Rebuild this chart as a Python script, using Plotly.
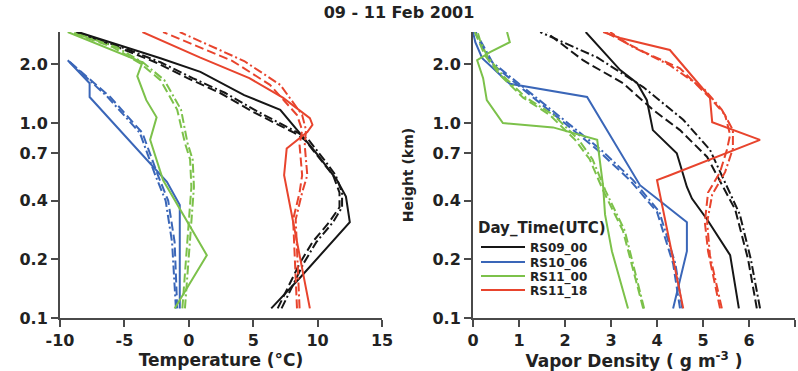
import plotly.graph_objects as go

# ---------------- data ----------------
series_names = ["RS09_00", "RS10_06", "RS11_00", "RS11_18"]
series_colors = ["#161616", "#3a66b8", "#7cc14a", "#e8442d"]
y_tick_vals = [0.1, 0.2, 0.4, 0.7, 1.0, 2.0]
y_tick_text = ["0.1", "0.2", "0.4", "0.7", "1.0", "2.0"]
temp_ticks = [-10, -5, 0, 5, 10, 15]
temp_tick_text = ["-10", "-5", "0", "5", "10", "15"]
vap_ticks = [0, 1, 2, 3, 4, 5, 6, 7]

# Temperature profiles (deg C) vs height (km)
t_rs09_solid_h = [0.112, 0.16, 0.31, 0.42, 0.51, 0.70, 0.89, 1.17, 1.39, 1.83, 2.15, 2.5, 2.93]
t_rs09_solid = [6.4, 8.6, 12.5, 12.2, 11.5, 9.9, 8.6, 7.1, 4.3, 0.9, -2.2, -5.3, -8.6]
t_rs09_dash_h = [0.112, 0.19, 0.245, 0.31, 0.37, 0.44, 0.54, 0.65, 0.82, 0.89, 1.14, 1.43, 1.7, 2.05, 2.42, 2.93]
t_rs09_dash = [6.9, 8.6, 9.6, 10.9, 11.7, 11.7, 11.2, 10.2, 9.0, 8.2, 5.0, 2.4, -0.1, -2.6, -5.3, -8.8]
t_rs09_dd = [7.2, 8.9, 9.9, 11.2, 11.9, 11.9, 11.4, 10.5, 9.3, 8.5, 5.4, 2.8, 0.3, -2.2, -5.0, -8.7]

t_rs10_solid_h = [0.112, 0.38, 0.50, 1.36, 1.6, 2.1]
t_rs10_solid = [-0.7, -0.7, -1.7, -7.7, -7.7, -9.4]
t_rs10_dash_h = [0.112, 0.245, 0.4, 0.54, 0.89, 1.36, 2.1]
t_rs10_dash = [-0.9, -1.1, -1.6, -2.4, -3.6, -6.1, -9.4]
t_rs10_dd = [-1.0, -1.3, -1.8, -2.6, -3.8, -6.3, -9.4]

t_rs11a_solid_h = [0.112, 0.21, 0.51, 0.82, 1.07, 1.31, 1.74, 2.05, 2.93]
t_rs11a_solid = [-1.1, 1.4, -2.0, -3.0, -2.5, -3.3, -4.0, -3.6, -9.4]
t_rs11a_dash_h = [0.112, 0.22, 0.47, 0.65, 0.79, 1.17, 1.66, 2.03, 2.45, 2.9]
t_rs11a_dash = [-0.5, -0.15, 0.2, 0.1, -0.3, -0.9, -2.2, -3.8, -5.9, -9.0]
t_rs11a_dd = [-0.3, 0.05, 0.4, 0.3, -0.1, -0.6, -1.9, -3.5, -5.6, -8.9]

t_rs11b_solid_h = [0.112, 0.54, 0.74, 0.82, 0.90, 0.98, 1.06, 1.35, 1.7, 2.17, 2.93]
t_rs11b_solid = [9.4, 7.4, 7.6, 8.4, 9.2, 9.6, 9.4, 7.3, 4.7, 0.85, -3.6]
t_rs11b_dash_h = [0.112, 0.32, 0.44, 0.54, 0.77, 0.92, 1.1, 1.57, 2.08, 2.93]
t_rs11b_dash = [8.4, 8.1, 8.6, 8.8, 8.6, 8.8, 8.4, 6.3, 3.4, -2.0]
t_rs11b_dd = [8.6, 8.3, 8.8, 9.2, 9.0, 9.1, 8.8, 7.1, 4.3, -0.7]

# Vapor density profiles (g m-3) vs height (km)
v_rs09_solid_h = [0.112, 0.21, 0.32, 0.41, 0.47, 0.70, 0.92, 1.31, 1.6, 1.87, 2.93]
v_rs09_solid = [5.78, 5.59, 5.09, 4.76, 4.65, 4.43, 3.91, 3.78, 3.57, 3.2, 2.45]
v_rs09_dash_h = [0.112, 0.2, 0.36, 0.48, 0.67, 0.92, 1.17, 1.6, 2.1, 2.9]
v_rs09_dash = [6.17, 5.98, 5.7, 5.41, 5.09, 4.5, 3.91, 3.26, 2.39, 1.61]
v_rs09_dd_h = [0.112, 0.2, 0.34, 0.47, 0.73, 1.04, 1.53, 2.17, 2.93]
v_rs09_dd = [6.24, 6.04, 5.8, 5.52, 5.15, 4.57, 3.7, 2.7, 1.46]

v_rs10_solid_h = [0.112, 0.22, 0.31, 0.48, 1.36, 1.59, 2.15, 2.6, 2.93]
v_rs10_solid = [4.35, 4.65, 4.65, 3.63, 2.48, 0.8, 0.2, 0.05, 0.0]
v_rs10_dash_h = [0.112, 0.19, 0.35, 0.51, 0.73, 1.07, 1.48, 2.05, 2.93]
v_rs10_dash = [4.5, 4.35, 4.0, 3.41, 2.7, 1.83, 1.09, 0.37, 0.04]
v_rs10_dd = [4.55, 4.4, 4.05, 3.48, 2.78, 1.9, 1.15, 0.42, 0.06]

v_rs11a_solid_h = [0.112, 0.22, 0.34, 0.47, 0.82, 0.95, 1.0, 1.31, 1.70, 2.1, 2.31, 2.6, 2.93]
v_rs11a_solid = [3.37, 3.02, 2.87, 2.83, 2.7, 1.74, 0.65, 0.3, 0.22, 0.09, 0.37, 0.8, 0.74]
v_rs11a_dash_h = [0.112, 0.28, 0.45, 0.65, 0.82, 1.1, 1.35, 1.76, 2.22, 2.67, 2.93]
v_rs11a_dash = [3.7, 3.26, 2.83, 2.54, 2.22, 1.67, 1.09, 0.59, 0.26, 0.11, 0.04]
v_rs11a_dd = [3.72, 3.3, 2.88, 2.6, 2.3, 1.75, 1.15, 0.64, 0.3, 0.15, 0.1]

v_rs11b_solid_h = [0.112, 0.35, 0.51, 0.54, 0.82, 1.01, 1.36, 2.37, 2.73, 2.93]
v_rs11b_solid = [4.57, 4.13, 4.0, 4.28, 6.24, 5.2, 5.15, 4.28, 3.2, 2.83]
v_rs11b_dash_h = [0.112, 0.22, 0.31, 0.44, 0.56, 0.73, 0.87, 1.1, 1.31, 1.91, 2.3, 2.93]
v_rs11b_dash = [5.37, 5.11, 5.04, 5.11, 5.37, 5.52, 5.59, 5.48, 5.2, 4.5, 3.74, 2.87]
v_rs11b_dd_h = [0.112, 0.21, 0.31, 0.43, 0.56, 0.74, 0.92, 1.17, 1.48, 1.98, 2.5, 2.93]
v_rs11b_dd = [5.41, 5.15, 5.09, 5.2, 5.48, 5.65, 5.65, 5.41, 5.04, 4.28, 3.41, 2.98]

# ---------------- figure ----------------
W, H = 798, 371
FONT = "DejaVu Sans"
DASH = "9px,4px"
DASHDOT = "9px,3px,2px,3px"

temp_sets = [
    [(t_rs09_solid, t_rs09_solid_h), (t_rs09_dash, t_rs09_dash_h), (t_rs09_dd, t_rs09_dash_h)],
    [(t_rs10_solid, t_rs10_solid_h), (t_rs10_dash, t_rs10_dash_h), (t_rs10_dd, t_rs10_dash_h)],
    [(t_rs11a_solid, t_rs11a_solid_h), (t_rs11a_dash, t_rs11a_dash_h), (t_rs11a_dd, t_rs11a_dash_h)],
    [(t_rs11b_solid, t_rs11b_solid_h), (t_rs11b_dash, t_rs11b_dash_h), (t_rs11b_dd, t_rs11b_dash_h)],
]
vap_sets = [
    [(v_rs09_solid, v_rs09_solid_h), (v_rs09_dash, v_rs09_dash_h), (v_rs09_dd, v_rs09_dd_h)],
    [(v_rs10_solid, v_rs10_solid_h), (v_rs10_dash, v_rs10_dash_h), (v_rs10_dd, v_rs10_dash_h)],
    [(v_rs11a_solid, v_rs11a_solid_h), (v_rs11a_dash, v_rs11a_dash_h), (v_rs11a_dd, v_rs11a_dash_h)],
    [(v_rs11b_solid, v_rs11b_solid_h), (v_rs11b_dash, v_rs11b_dash_h), (v_rs11b_dd, v_rs11b_dd_h)],
]
styles = ["solid", DASH, DASHDOT]
legend_ids = ["legend", "legend2", "legend3", "legend4"]

fig = go.Figure()
for i, name in enumerate(series_names):
    for j, (xs, hs) in enumerate(temp_sets[i]):
        fig.add_trace(go.Scatter(
            x=xs, y=hs, mode="lines", xaxis="x", yaxis="y",
            line=dict(color=series_colors[i], width=2, dash=styles[j]),
            showlegend=False, hoverinfo="skip"))
    for j, (xs, hs) in enumerate(vap_sets[i]):
        fig.add_trace(go.Scatter(
            x=xs, y=hs, mode="lines", xaxis="x2", yaxis="y2",
            name=name, legend=legend_ids[i],
            line=dict(color=series_colors[i], width=2, dash=styles[j]),
            showlegend=(j == 0), hoverinfo="skip"))

def px_x(p):
    return p / W

def px_y(p):
    return 1 - p / H

y_dom = [px_y(318), px_y(32)]
axis_line = dict(showline=True, linecolor="#4a4a4a", linewidth=2, ticks="outside",
                 ticklen=7, tickwidth=2, tickcolor="#4a4a4a", showgrid=False,
                 zeroline=False, automargin=False,
                 tickfont=dict(family=FONT, size=16, color="#222", weight="bold"))
xtitle_font = dict(family=FONT, size=17, color="#222", weight="bold")
ytitle_font = dict(family=FONT, size=14, color="#222", weight="bold")

yrange = [-1, 0.467]

fig.update_layout(
    width=W, height=H,
    margin=dict(l=0, r=0, t=0, b=0),
    paper_bgcolor="white", plot_bgcolor="white",
    title=dict(text="09 - 11 Feb 2001", x=0.5, xanchor="center", y=px_y(12),
               yanchor="middle", yref="container",
               font=dict(family=FONT, size=16, color="#222", weight="bold")),
    xaxis=dict(domain=[px_x(60), px_x(382)], range=[-10, 15], tickvals=temp_ticks,
               ticktext=temp_tick_text, anchor="y",
               title=dict(text="Temperature (°C)", font=xtitle_font, standoff=1),
               **axis_line),
    yaxis=dict(domain=y_dom, type="log", range=yrange, tickvals=y_tick_vals,
               ticktext=y_tick_text, anchor="x", **axis_line),
    xaxis2=dict(domain=[px_x(473), px_x(795)], range=[0, 7], tickvals=vap_ticks,
                anchor="y2",
                title=dict(text="Vapor Density ( g m<sup>-3</sup> )", font=xtitle_font, standoff=1),
                **axis_line),
    yaxis2=dict(domain=y_dom, type="log", range=yrange, tickvals=y_tick_vals,
                ticktext=y_tick_text, anchor="x2",
                title=dict(text="Height (km)", font=ytitle_font, standoff=16),
                **axis_line),
)

leg_font = dict(family=FONT, size=12, color="#222", weight="bold")
leg_y = [247, 262, 276, 290]
for k, lid in enumerate(legend_ids):
    cfg = dict(x=px_x(476), xanchor="left", y=px_y(leg_y[k]), yanchor="middle",
               bgcolor="rgba(0,0,0,0)", borderwidth=0, font=leg_font,
               itemwidth=44)
    fig.update_layout({lid: cfg})

fig.add_annotation(text="Day_Time(UTC)", x=px_x(476), y=px_y(228), xref="paper", yref="paper",
                   xanchor="left", yanchor="middle", showarrow=False,
                   font=dict(family=FONT, size=15, color="#222", weight="bold"))

fig.write_html("out.html")
